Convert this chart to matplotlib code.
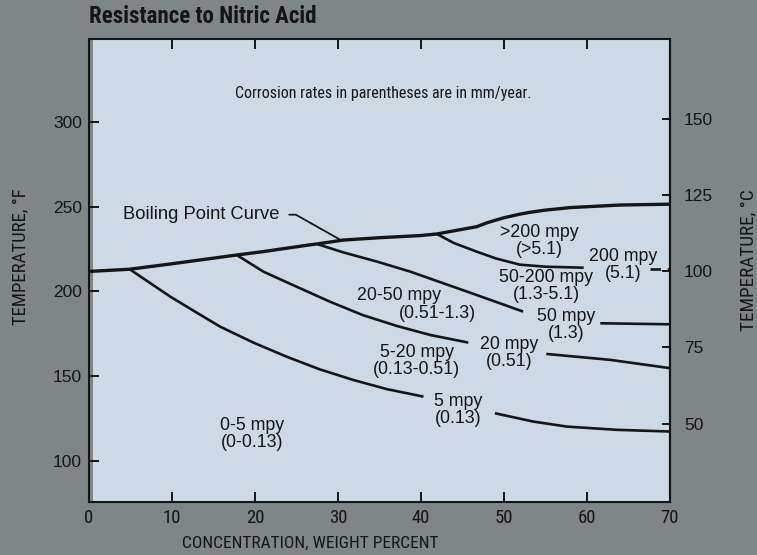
import os
import numpy as np
import matplotlib
matplotlib.use("Agg")
import matplotlib.pyplot as plt
from matplotlib import font_manager as fm
from matplotlib.font_manager import FontProperties

# ---------------- data ----------------
boil_x = [0, 4.9, 9.8, 17.8, 21, 26.6, 27.6, 30.6, 35, 40, 41.9, 44, 46.7, 48, 50, 51.9, 53, 55, 58, 64, 70]
boil_y = [211.8, 213.1, 216.2, 221.5, 223.5, 227.5, 228.1, 230.3, 231.7, 233.0, 233.9, 235.8, 238.2,
          240.6, 243.5, 245.6, 246.6, 248.0, 249.5, 251.0, 251.5]

c5a_x = [4.9, 9.8, 12.8, 15.8, 19.8, 23.8, 27.8, 31.8, 35.9, 40.3]
c5a_y = [213.1, 196.9, 188.0, 179.2, 169.8, 161.5, 154.0, 147.8, 142.3, 137.9]
c5b_x = [48.9, 53.5, 57.6, 63.6, 70]
c5b_y = [128.1, 123.2, 120.2, 118.3, 117.3]

c20a_x = [17.8, 21, 25, 29, 33, 37.1, 41.1, 45.7]
c20a_y = [221.5, 211.7, 202.8, 194.0, 186.0, 179.6, 174.3, 169.8]
c20b_x = [55.1, 62.8, 70]
c20b_y = [163.1, 159.6, 154.7]

c50a_x = [27.6, 30.6, 34.7, 38.7, 42.7, 46.7, 52.3]
c50a_y = [227.8, 223.1, 217.6, 211.7, 204.8, 197.9, 188.1]
c50b_x = [61.6, 70]
c50b_y = [181.2, 180.6]

c200_x = [41.9, 44, 46.7, 49, 51.9, 55, 59.6]
c200_y = [233.9, 228.5, 223.5, 219.5, 215.8, 214.6, 214.0]
c200d_x = [67.6, 70]
c200d_y = [213.1, 213.1]

x_ticks = [0, 10, 20, 30, 40, 50, 60, 70]
yF_ticks = [100, 150, 200, 250, 300]
yC_ticks = [50, 75, 100, 125, 150]

region_labels = [">200 mpy\n(>5.1)", "200 mpy\n(5.1)", "50-200 mpy\n(1.3-5.1)",
                 "50 mpy\n(1.3)", "20-50 mpy", "(0.51-1.3)", "5-20 mpy\n(0.13-0.51)",
                 "20 mpy\n(0.51)", "5 mpy\n(0.13)", "0-5 mpy\n(0-0.13)"]
label_pos = [(54.3, 229.6), (64.3, 215.6), (55.1, 203.1), (57.5, 180.1),
             (37.3, 197.6), (42.0, 186.8), (39.5, 158.9), (50.6, 163.4),
             (44.5, 129.9), (19.6, 115.8)]

# ---------------- fonts ----------------
REG = "Liberation Sans"


def _norm(p):
    b = os.path.splitext(os.path.basename(p))[0].lower()
    for ch in " -_":
        b = b.replace(ch, "")
    return b


_files = {}
for _f in fm.fontManager.ttflist:
    _files.setdefault(_norm(_f.fname), _f.fname)


def find_narrow(bold):
    if bold:
        pats = ["liberationsansnarrowbold", "notosansextracondensedbold", "notosanscondensedbold",
                "robotocondensedbold", "dejavusanscondensedbold", "opensanscondensedbold"]
    else:
        pats = ["liberationsansnarrowregular", "liberationsansnarrow", "notosansextracondensed",
                "notosansextracondensedregular", "notosanscondensed", "notosanscondensedregular",
                "robotocondensedregular", "dejavusanscondensed", "opensanscondensedregular"]
    for p in pats:
        if p in _files:
            return _files[p]
    return None


_nr = find_narrow(False)
_nb = find_narrow(True)


def narrow(size, bold=False):
    path = _nb if bold else _nr
    if path:
        return FontProperties(fname=path, size=size)
    return FontProperties(family=REG, size=size, weight="bold" if bold else "normal")


def regular(size):
    return FontProperties(family=REG, size=size)


BG = "#7f8688"
FACE = "#cddae6"
INK = "#151515"

W, H = 757, 555
fig = plt.figure(figsize=(W / 100, H / 100), dpi=100, facecolor=BG)
L, R, T, B = 89, 670, 39, 502
ax = fig.add_axes([L / W, 1 - B / H, (R - L) / W, (B - T) / H], facecolor=FACE)

ax.set_xlim(0, 70)
ax.set_ylim(75.7, 349.0)

# thin grey band inside the left frame, as on the scanned original
ax.axvspan(0, 0.5, color=BG, lw=0, zorder=0.5)

lw_c = 1.9
ax.plot(boil_x, boil_y, color=INK, lw=2.4, solid_capstyle="butt", zorder=3)
for xs, ys in [(c5a_x, c5a_y), (c5b_x, c5b_y), (c20a_x, c20a_y), (c20b_x, c20b_y),
               (c50a_x, c50a_y), (c50b_x, c50b_y), (c200_x, c200_y)]:
    ax.plot(xs, ys, color=INK, lw=lw_c, solid_capstyle="butt", zorder=3)
ax.plot(c200d_x, c200d_y, color=INK, lw=lw_c, ls=(0, (4, 2.5)), zorder=3)

# ticks
ax.set_xticks(x_ticks)
ax.set_yticks(yF_ticks)
ax.tick_params(axis="both", direction="in", length=7, width=1.4, colors=INK)
ax.tick_params(axis="x", top=True, pad=5)
ax.tick_params(axis="y", pad=5)
for lab in ax.get_xticklabels():
    lab.set_fontproperties(narrow(13.5))
for lab in ax.get_yticklabels():
    lab.set_fontproperties(regular(12.5))
for sp in ax.spines.values():
    sp.set_linewidth(1.5)
    sp.set_color(INK)


def f2c(f):
    return (np.asarray(f) - 32) / 1.8


def c2f(c):
    return np.asarray(c) * 1.8 + 32


sec = ax.secondary_yaxis("right", functions=(f2c, c2f))
sec.set_yticks(yC_ticks)
sec.tick_params(direction="in", length=6, width=1.4, pad=10, colors=INK)
sec.spines["right"].set_linewidth(1.5)
for lab in sec.get_yticklabels():
    lab.set_fontproperties(regular(12.5))

# texts
t_title = fig.text(L / W, 1 - 23 / H, "Resistance to Nitric Acid", fontproperties=narrow(16, True),
                   color=INK, ha="left", va="baseline")
t_note = ax.text(35.5, 317.1, "Corrosion rates in parentheses are in mm/year.",
                 fontproperties=narrow(12.3), color=INK, ha="center", va="center")
t_xl = fig.text(310 / W, 1 - 543 / H, "CONCENTRATION, WEIGHT PERCENT", fontproperties=narrow(12.5),
                color=INK, ha="center", va="center")
t_yl = fig.text(20 / W, 1 - 257 / H, "TEMPERATURE, °F", fontproperties=narrow(12.5),
                color=INK, ha="center", va="center", rotation=90)
t_yr = fig.text(748 / W, 1 - 260 / H, "TEMPERATURE, °C", fontproperties=narrow(12.5),
                color=INK, ha="center", va="center", rotation=90)

for txt, (tx, ty) in zip(region_labels, label_pos):
    ax.text(tx, ty, txt, fontproperties=regular(12.8), color=INK, ha="center",
            va="center", linespacing=1.0, zorder=4)

# boiling point curve leader
px = 30.4
py = float(np.interp(px, boil_x, boil_y))
ax.annotate("Boiling Point Curve", xy=(px, py), xytext=(4.1, 245.3),
            fontproperties=regular(13.2), color=INK, ha="left", va="center",
            arrowprops=dict(arrowstyle="-", color=INK, lw=1.3, relpos=(1, 0.5),
                            shrinkA=5, shrinkB=0,
                            connectionstyle="angle,angleA=0,angleB=150.6,rad=0"))

# fit text lengths to the reference widths
fig.canvas.draw()
_r = fig.canvas.get_renderer()
for t, target, vertical in [(t_title, 228, False), (t_note, 298, False), (t_xl, 256, False),
                            (t_yl, 138, True), (t_yr, 142, True)]:
    bb = t.get_window_extent(_r)
    cur = bb.height if vertical else bb.width
    t.set_fontsize(t.get_fontsize() * target / cur)

fig.savefig("out.png", dpi=100, facecolor=BG)
